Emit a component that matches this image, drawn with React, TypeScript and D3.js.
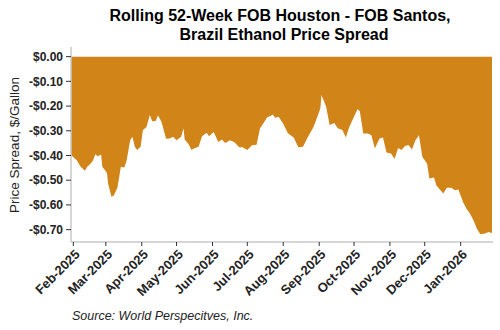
import React from "react";
import * as d3 from "d3";

const dates: string[] = [
  "2025-01-30","2025-02-04","2025-02-07","2025-02-11","2025-02-13","2025-02-16","2025-02-18","2025-02-20","2025-02-22","2025-02-25",
  "2025-02-26","2025-03-02","2025-03-03","2025-03-06","2025-03-08","2025-03-11","2025-03-14","2025-03-17","2025-03-19","2025-03-22",
  "2025-03-24","2025-03-26","2025-03-28","2025-03-31","2025-04-02","2025-04-05","2025-04-08","2025-04-10","2025-04-13","2025-04-15",
  "2025-04-18","2025-04-22","2025-04-25","2025-04-28","2025-05-01","2025-05-05","2025-05-07","2025-05-08","2025-05-11","2025-05-14",
  "2025-05-16","2025-05-20","2025-05-23","2025-05-27","2025-05-29","2025-06-02","2025-06-06","2025-06-09","2025-06-12","2025-06-16",
  "2025-06-20","2025-06-24","2025-06-27","2025-07-01","2025-07-05","2025-07-09","2025-07-12","2025-07-14","2025-07-18","2025-07-21",
  "2025-07-23","2025-07-25","2025-07-28","2025-08-01","2025-08-05","2025-08-10","2025-08-14","2025-08-18","2025-08-22","2025-08-27",
  "2025-08-31","2025-09-02","2025-09-03","2025-09-07","2025-09-10","2025-09-14","2025-09-17","2025-09-21","2025-09-24","2025-09-27",
  "2025-10-01","2025-10-04","2025-10-06","2025-10-09","2025-10-13","2025-10-16","2025-10-19","2025-10-23","2025-10-26","2025-10-29",
  "2025-11-02","2025-11-05","2025-11-08","2025-11-11","2025-11-14","2025-11-17","2025-11-20","2025-11-23","2025-11-26","2025-11-29",
  "2025-12-03","2025-12-05","2025-12-09","2025-12-11","2025-12-14","2025-12-17","2025-12-20","2025-12-24","2025-12-27","2025-12-30",
  "2026-01-03","2026-01-06","2026-01-09","2026-01-12","2026-01-15","2026-01-18","2026-01-22","2026-01-25","2026-01-28"
];

const spreads: number[] = [
  -0.398,-0.419,-0.443,-0.462,-0.446,-0.432,-0.42,-0.395,-0.403,-0.396,
  -0.446,-0.47,-0.514,-0.568,-0.561,-0.53,-0.446,-0.449,-0.419,-0.338,
  -0.324,-0.365,-0.378,-0.365,-0.297,-0.286,-0.236,-0.261,-0.26,-0.238,
  -0.263,-0.332,-0.331,-0.324,-0.338,-0.324,-0.29,-0.335,-0.351,-0.378,
  -0.372,-0.365,-0.322,-0.308,-0.322,-0.305,-0.345,-0.335,-0.349,-0.338,
  -0.346,-0.367,-0.367,-0.378,-0.359,-0.357,-0.29,-0.277,-0.246,-0.24,
  -0.234,-0.247,-0.243,-0.272,-0.31,-0.327,-0.367,-0.365,-0.327,-0.286,
  -0.236,-0.209,-0.155,-0.203,-0.277,-0.268,-0.29,-0.297,-0.327,-0.284,
  -0.243,-0.213,-0.22,-0.311,-0.311,-0.318,-0.372,-0.331,-0.327,-0.388,
  -0.392,-0.414,-0.37,-0.378,-0.362,-0.358,-0.376,-0.338,-0.318,-0.406,
  -0.432,-0.493,-0.489,-0.52,-0.538,-0.554,-0.53,-0.53,-0.541,-0.538,
  -0.588,-0.615,-0.635,-0.662,-0.696,-0.719,-0.716,-0.71,-0.714
];

const yTicks: number[] = [0, -0.1, -0.2, -0.3, -0.4, -0.5, -0.6, -0.7];
const xTickMonths: string[] = [
  "2025-02-01","2025-03-01","2025-04-01","2025-05-01","2025-06-01","2025-07-01",
  "2025-08-01","2025-09-01","2025-10-01","2025-11-01","2025-12-01","2026-01-01"
];

const title1 = "Rolling 52-Week FOB Houston - FOB Santos,";
const title2 = "Brazil Ethanol Price Spread";
const yTitle = "Price Spread, $/Gallon";
const source = "Source: World Perspecitves, Inc.";

const W = 500, H = 330;
const left = 71, right = 492, top = 47, bottom = 242;
const FONT = "'Liberation Sans', Arial, sans-serif";
const FILL = "#D18418";

export default function App() {
  const parse = d3.utcParse("%Y-%m-%d");
  const data = dates.map((d, i) => ({ date: parse(d)!, v: spreads[i] }));
  const x = d3.scaleUtc()
    .domain([parse("2025-01-30")!, parse("2026-01-28")!])
    .range([left, right]);
  const y = d3.scaleLinear().domain([-0.75, 0.039]).range([bottom, top]);
  const area = d3.area<{ date: Date; v: number }>()
    .x(d => x(d.date))
    .y0(() => y(0))
    .y1(d => y(d.v));
  const fmtMonth = d3.utcFormat("%b-%Y");
  const fmtY = (v: number) => (v < 0 ? "-$" : "$") + Math.abs(v).toFixed(2);

  return (
    <svg width={W} height={H} style={{ position: "absolute", left: 0, top: 0, background: "#fff" }}>
      <text x={280} y={21} textAnchor="middle" fontFamily={FONT} fontWeight="bold" fontSize={16} fill="#000">{title1}</text>
      <text x={284} y={40} textAnchor="middle" fontFamily={FONT} fontWeight="bold" fontSize={16} fill="#000">{title2}</text>

      <path d={area(data) || ""} fill={FILL} />

      <line x1={left} x2={left} y1={top} y2={bottom} stroke="#c8c8c8" strokeWidth={1.5} />
      <line x1={left} x2={right + 1} y1={bottom} y2={bottom} stroke="#c8c8c8" strokeWidth={1.5} />

      {yTicks.map(t => (
        <g key={t}>
          <line x1={left - 5} x2={left} y1={y(t)} y2={y(t)} stroke="#333" strokeWidth={1} />
          <text x={left - 8} y={y(t)} dy="0.35em" textAnchor="end" fontFamily={FONT} fontWeight="bold" fontSize={12} fill="#222">{fmtY(t)}</text>
        </g>
      ))}

      {xTickMonths.map(m => {
        const px = x(parse(m)!);
        return (
          <g key={m}>
            <line x1={px} x2={px} y1={bottom} y2={bottom + 4} stroke="#333" strokeWidth={1} />
            <text transform={`translate(${px + 4},${bottom + 10}) rotate(-45)`} textAnchor="end" dy="0.35em" fontFamily={FONT} fontWeight="bold" fontSize={13} fill="#222">{fmtMonth(parse(m)!)}</text>
          </g>
        );
      })}

      <text transform={`translate(19,145) rotate(-90)`} textAnchor="middle" fontFamily={FONT} fontSize={13.5} fill="#222">{yTitle}</text>
      <text x={72} y={320} fontFamily={FONT} fontStyle="italic" fontSize={12.5} fill="#222">{source}</text>
    </svg>
  );
}
